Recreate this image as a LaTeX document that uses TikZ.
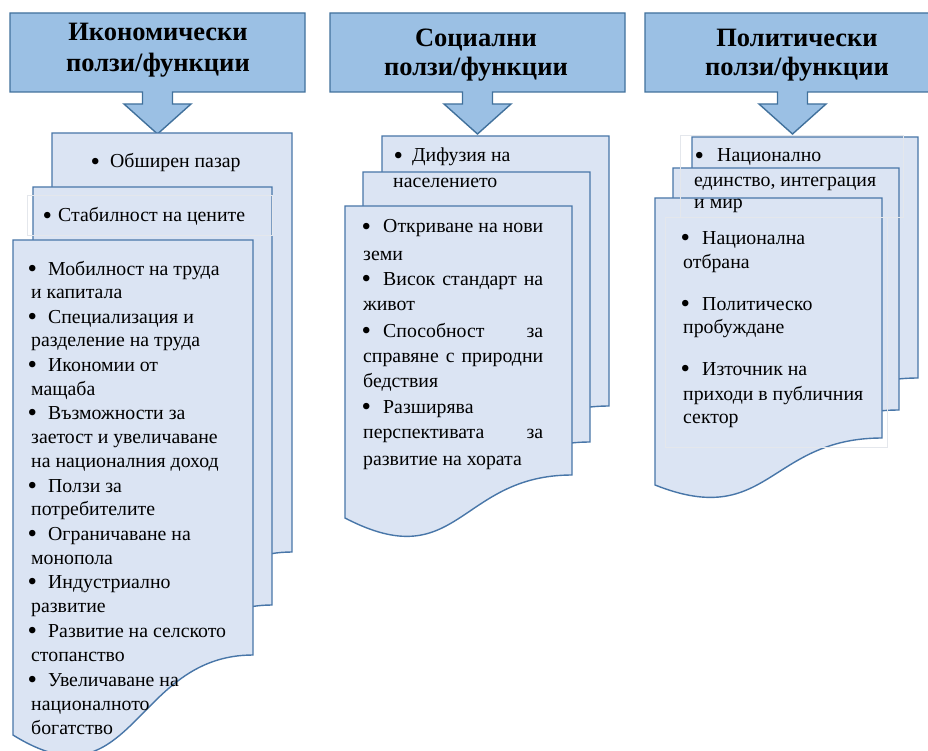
\documentclass[tikz,border=0pt]{standalone}
\usepackage{fontspec}
\setmainfont{Liberation Serif}
\definecolor{hdrfill}{RGB}{155,192,228}
\definecolor{hdrline}{RGB}{65,113,156}
\definecolor{docfill}{RGB}{219,228,243}
\definecolor{docline}{RGB}{72,118,168}
\definecolor{faint}{RGB}{228,231,236}
\tikzset{
  hdrsty/.style={draw=hdrline, fill=hdrfill, line width=1.4pt, line join=miter},
  docsty/.style={draw=docline, fill=docfill, line width=1.4pt, line join=miter},
  faintbox/.style={draw=faint, line width=0.9pt},
  hdrtxt/.style={anchor=base, inner sep=0pt, font=\fontsize{26.5}{30}\selectfont\bfseries},
  txt/.style={anchor=base west, inner sep=0pt, font=\fontsize{19.8}{22}\selectfont}
}
% x0, top, x1, yRight, yLeft, control y
\newcommand\docshape[6]{\draw[docsty] (#1,#2) -- (#3,#2) -- (#3,#4) .. controls ({(#1+#3)/2},#4) and ({(#1+#3)/2},#6) .. (#1,#5) -- cycle;}
% x0, x1, arrow centre
\newcommand\hdrshape[3]{\draw[hdrsty] (#1,13) -- (#2,13) -- (#2,92) -- ({#3+15},92) -- ({#3+15},104) -- ({#3+33.5},104) -- (#3,134) -- ({#3-33.5},104) -- ({#3-15},104) -- ({#3-15},92) -- (#1,92) -- cycle;}
\newcommand\bul[1]{\makebox[#1][l]{\hspace*{-1.5pt}\raisebox{-2.2pt}{\fontsize{27}{22}\selectfont •}}}
\begin{document}
\begin{tikzpicture}[x=1pt,y=-1pt]
\useasboundingbox (0,0) rectangle (928,751);
\fill[white] (0,0) rectangle (928,751);
\clip (0,0) rectangle (928,751);

% ---------- headers ----------
\hdrshape{10}{305}{157.5}
\hdrshape{330}{625}{477.5}
\hdrshape{645}{940}{792.5}
\node[hdrtxt] (h1a) at (158,41) {Икономически};
\node[hdrtxt] (h1b) at (158,72) {ползи/функции};
\node[hdrtxt] (h2a) at (476,47) {Социални};
\node[hdrtxt] (h2b) at (476,76) {ползи/функции};
\node[hdrtxt] (h3a) at (797,47) {Политически};
\node[hdrtxt] (h3b) at (797,76) {ползи/функции};

% ---------- column 1 documents ----------
\docshape{52}{133}{292}{552}{621}{711}
\docshape{33}{187}{272}{605}{674}{764}
\draw[faintbox] (27,195) rectangle (272,235);
\docshape{13}{240}{253}{655}{735}{810}

% ---------- column 2 documents ----------
\docshape{382}{136}{609}{406}{451}{509}
\docshape{363}{172}{590}{442}{487}{545}
\docshape{345}{206}{572}{475}{518}{577}

% ---------- column 3 documents ----------
\docshape{692}{137}{918}{378}{417}{469}
\docshape{673}{168}{899}{410}{450}{502}
\docshape{655}{198}{882}{438}{485}{530}
\draw[faintbox] (680,135) rectangle (903,217);
\draw[faintbox] (665,217) rectangle (887,447);

% ---------- column 1 text ----------
\node[txt] (e0) at (92,168) {\bul{18pt}Обширен пазар};
\node[txt] (e00) at (44,222) {\bul{14pt}Стабилност на цените};
\node[txt] (e1) at (29,275) {\bul{19pt}Мобилност на труда};
\node[txt] (e2) at (31,298) {и капитала};
\node[txt] (e3) at (29,323) {\bul{19pt}Специализация и};
\node[txt] (e4) at (31,346) {разделение на труда};
\node[txt] (e5) at (29,371) {\bul{19pt}Икономии от};
\node[txt] (e6) at (31,395) {мащаба};
\node[txt] (e7) at (29,419) {\bul{19pt}Възможности за};
\node[txt] (e8) at (31,443) {заетост и увеличаване};
\node[txt] (e9) at (31,467) {на националния доход};
\node[txt] (e10) at (29,492) {\bul{19pt}Ползи за};
\node[txt] (e11) at (31,515) {потребителите};
\node[txt] (e12) at (29,540) {\bul{19pt}Ограничаване на};
\node[txt] (e13) at (31,564) {монопола};
\node[txt] (e14) at (29,588) {\bul{19pt}Индустриално};
\node[txt] (e15) at (31,612) {развитие};
\node[txt] (e16) at (29,637) {\bul{19pt}Развитие на селското};
\node[txt] (e17) at (31,661) {стопанство};
\node[txt] (e18) at (29,686) {\bul{19pt}Увеличаване на};
\node[txt] (e19) at (31,710) {националното};
\node[txt] (e20) at (31,734) {богатство};

% ---------- column 2 text ----------
\node[txt] (s0) at (395,162) {\bul{17pt}Дифузия на};
\node[txt] (s00) at (393,188) {населението};
\node[txt] (s1) at (363,233) {\bul{20pt}\makebox[160pt][s]{Откриване на нови}};
\node[txt] (s2) at (363,260) {земи};
\node[txt] (s3) at (363,285) {\bul{20pt}\makebox[160pt][s]{Висок стандарт на}};
\node[txt] (s4) at (363,310) {живот};
\node[txt] (s5) at (363,337) {\bul{20pt}\makebox[160pt][s]{Способност за}};
\node[txt] (s6) at (363,362) {\makebox[180pt][s]{справяне с природни}};
\node[txt] (s7) at (363,387) {бедствия};
\node[txt] (s8) at (363,413) {\bul{20pt}Разширява};
\node[txt] (s9) at (363,438) {\makebox[180pt][s]{перспективата за}};
\node[txt] (s10) at (363,465) {развитие на хората};

% ---------- column 3 text ----------
\node[txt] (p0) at (696,162) {\bul{21pt}Национално};
\node[txt] (p00) at (694,187) {единство, интеграция};
\node[txt] (p000) at (694,209) {и мир};
\node[txt] (p1) at (682,244) {\bul{20pt}Национална};
\node[txt] (p2) at (683,268) {отбрана};
\node[txt] (p3) at (682,310) {\bul{20pt}Политическо};
\node[txt] (p4) at (683,333) {пробуждане};
\node[txt] (p5) at (682,375) {\bul{20pt}Източник на};
\node[txt] (p6) at (683,400) {приходи в публичния};
\node[txt] (p7) at (683,423) {сектор};
\end{tikzpicture}
\end{document}
